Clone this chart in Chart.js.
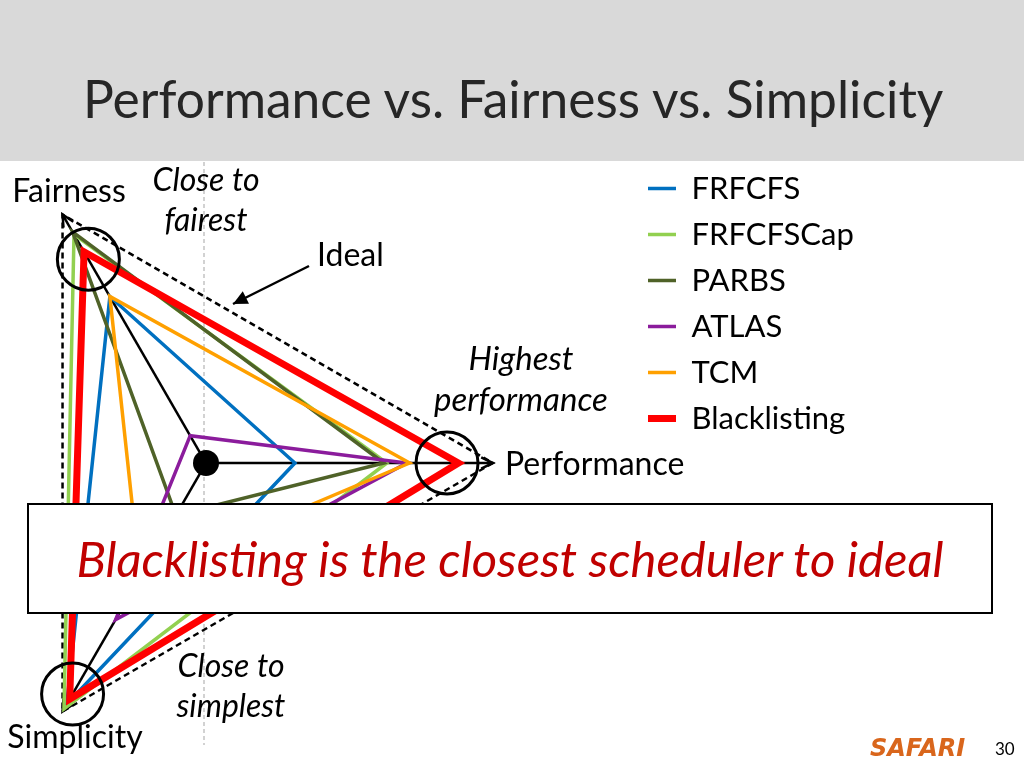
<!DOCTYPE html>
<html>
<head>
<meta charset="utf-8">
<script src="https://cdn.jsdelivr.net/npm/chart.js@4.4.1/dist/chart.umd.min.js"></script>
<style>
  html, body { margin: 0; padding: 0; width: 1024px; height: 768px; overflow: hidden; background: #fff; font-family: Lato, "Open Sans", sans-serif; }
  #title { position: absolute; left: 0; top: 0; width: 1024px; height: 161px; background: #d9d9d9; }
  #title div { position: absolute; left: 83px; top: 67px; font-size: 51.5px; line-height: 62px; color: #262626; white-space: nowrap; }
  #chart { position: absolute; left: -230px; top: 150px; }
  #callout { position: absolute; left: 27px; top: 503px; width: 966px; height: 111px; box-sizing: border-box; border: 2.5px solid #000; background: #fff;
             color: #c00000; font-style: italic; font-size: 49px; line-height: 106px; text-align: center; white-space: nowrap; }
  #safari { position: absolute; left: 870px; top: 734px; font-family: "DejaVu Sans", sans-serif; font-size: 24px; font-weight: bold; font-style: italic; color: #d9661c; }
  #page { position: absolute; left: 995px; top: 738px; font-size: 17px; color: #000; }
</style>
</head>
<body>
<div id="title"><div>Performance vs. Fairness vs. Simplicity</div></div>
<canvas id="chart" width="1254" height="630"></canvas>
<div id="callout">Blacklisting is the closest scheduler to ideal</div>
<div id="safari">SAFARI</div>
<div id="page">30</div>
<script>
// axes in drawing order (clockwise from the right)
const axisLabels = ['Performance', 'Simplicity', 'Fairness'];
const seriesNames = ['FRFCFS', 'FRFCFSCap', 'PARBS', 'ATLAS', 'TCM', 'Blacklisting'];
const seriesColors = ['#0070c0', '#92d050', '#4f6228', '#8b1c9c', '#ffa000', '#ff0000'];

// values relative to the ideal (1 = best on that axis)
const frfcfs       = [0.31, 0.97, 0.67];
const frfcfsCap    = [0.63, 0.99, 0.92];
const parbs        = [0.62, 0.21, 0.93];
const atlas        = [0.70, 0.63, 0.11];
const tcm          = [0.71, 0.46, 0.67];
const blacklisting = [0.88, 0.95, 0.85];
const ideal        = [1, 1, 1];

const seriesData = [frfcfs, frfcfsCap, parbs, atlas, tcm, blacklisting];
const drawOrder = [5, 4, 3, 2, 1, 0];

Chart.defaults.font.family = 'Lato';
Chart.defaults.color = '#000';

// size legend so the radar centre lands where the slide has it
const LEGEND_FONT = 31, LEGEND_PAD = 15, LEGEND_LINE = 28;
const measure = document.createElement('canvas').getContext('2d');
measure.font = 'normal ' + LEGEND_FONT + 'px Lato';
const legendTextW = Math.max(...seriesNames.map(s => measure.measureText(s).width));
const legendW = LEGEND_PAD + LEGEND_LINE + LEGEND_FONT / 2 + legendTextW + 10;
const legendLeft = 863;
const canvasW = 1254;

function arrow(ctx, x1, y1, x2, y2, size, filled) {
    const a = Math.atan2(y2 - y1, x2 - x1);
    ctx.beginPath();
    ctx.moveTo(x1, y1);
    ctx.lineTo(x2, y2);
    ctx.stroke();
    ctx.beginPath();
    ctx.moveTo(x2 - size * Math.cos(a - 0.45), y2 - size * Math.sin(a - 0.45));
    ctx.lineTo(x2, y2);
    ctx.lineTo(x2 - size * Math.cos(a + 0.45), y2 - size * Math.sin(a + 0.45));
    if (filled) { ctx.closePath(); ctx.fill(); } else { ctx.stroke(); }
}

function label(ctx, s, x, y, font, align) {
    ctx.font = font;
    ctx.textAlign = align || 'center';
    ctx.textBaseline = 'middle';
    ctx.fillStyle = '#000';
    ctx.fillText(s, x, y);
}

const slideDecor = {
    id: 'slideDecor',
    beforeDatasetsDraw(chart) {
        const r = chart.scales.r;
        const ctx = chart.ctx;
        const cx = r.xCenter, cy = r.yCenter;
        ctx.save();
        // grey dashed guide through the centre
        ctx.strokeStyle = '#c4c4c4';
        ctx.lineWidth = 1.5;
        ctx.setLineDash([4, 3]);
        ctx.beginPath();
        ctx.moveTo(cx - 2, cy - 301);
        ctx.lineTo(cx - 2, cy + 282);
        ctx.stroke();
        // axes
        ctx.setLineDash([]);
        ctx.strokeStyle = '#000';
        ctx.fillStyle = '#000';
        ctx.lineWidth = 2.5;
        axisLabels.forEach((_, i) => {
            const p = r.getPointPositionForValue(i, 1);
            arrow(ctx, cx, cy, p.x, p.y, 13, false);
        });
        ctx.restore();
    },
    afterDatasetsDraw(chart) {
        const r = chart.scales.r;
        const ctx = chart.ctx;
        const cx = r.xCenter, cy = r.yCenter;
        ctx.save();
        ctx.fillStyle = '#000';
        ctx.beginPath();
        ctx.arc(cx, cy, 13, 0, Math.PI * 2);
        ctx.fill();

        // circles around the best values
        ctx.strokeStyle = '#000';
        ctx.lineWidth = 3;
        [0.84, 0.93, 0.82].forEach((v, i) => {
            const p = r.getPointPositionForValue(i, v);
            ctx.beginPath();
            ctx.arc(p.x, p.y, 31, 0, Math.PI * 2);
            ctx.stroke();
        });

        // "Ideal" pointer
        ctx.lineWidth = 2.5;
        arrow(ctx, cx + 103, cy - 197, cx + 27, cy - 159, 16, true);

        const normal = 'normal 32px Lato';
        const italic = 'italic 32px Lato';
        label(ctx, 'Ideal', cx + 111, cy - 207, normal, 'left');
        label(ctx, 'Close to', cx, cy - 282, italic);
        label(ctx, 'fairest', cx, cy - 242, italic);
        label(ctx, 'Highest', cx + 315, cy - 104, 'italic 33px Lato');
        label(ctx, 'performance', cx + 315, cy - 63, 'italic 33px Lato');
        label(ctx, 'Close to', cx + 25, cy + 204, italic);
        label(ctx, 'simplest', cx + 25, cy + 244, italic);

        label(ctx, 'Fairness', cx - 137, cy - 271, normal);
        label(ctx, 'Performance', cx + 299, cy + 2, normal, 'left');
        label(ctx, 'Simplicity', cx - 131, cy + 275, normal);
        ctx.restore();
    }
};

const datasets = seriesNames.map((name, i) => ({
    label: name,
    data: seriesData[i],
    borderColor: seriesColors[i],
    backgroundColor: seriesColors[i],
    borderWidth: name === 'Blacklisting' ? 7 : 3.5,
    borderCapStyle: 'round',
    borderJoinStyle: 'miter',
    fill: false,
    pointRadius: 0,
    order: drawOrder[i]
}));
datasets.push({
    label: 'Ideal',
    data: ideal,
    borderColor: '#000',
    borderWidth: 2.5,
    borderDash: [6, 4],
    fill: false,
    pointRadius: 0,
    order: 10
});

new Chart(document.getElementById('chart'), {
    type: 'radar',
    data: { labels: axisLabels, datasets: datasets },
    options: {
        responsive: false,
        animation: false,
        layout: { padding: { left: 9, top: 8, bottom: 12, right: canvasW - legendLeft - legendW } },
        elements: { line: { tension: 0 } },
        scales: {
            r: {
                min: 0,
                max: 1.063,
                startAngle: 90,
                ticks: { display: false },
                grid: { display: false },
                angleLines: { display: false },
                pointLabels: { display: false }
            }
        },
        plugins: {
            tooltip: { enabled: false },
            legend: {
                position: 'right',
                align: 'start',
                labels: {
                    usePointStyle: true,
                    pointStyle: 'line',
                    pointStyleWidth: LEGEND_LINE,
                    padding: LEGEND_PAD,
                    color: '#000',
                    font: { size: LEGEND_FONT },
                    filter: item => item.text !== 'Ideal',
                    sort: (a, b) => a.datasetIndex - b.datasetIndex
                }
            }
        }
    },
    plugins: [slideDecor]
});
</script>
</body>
</html>
